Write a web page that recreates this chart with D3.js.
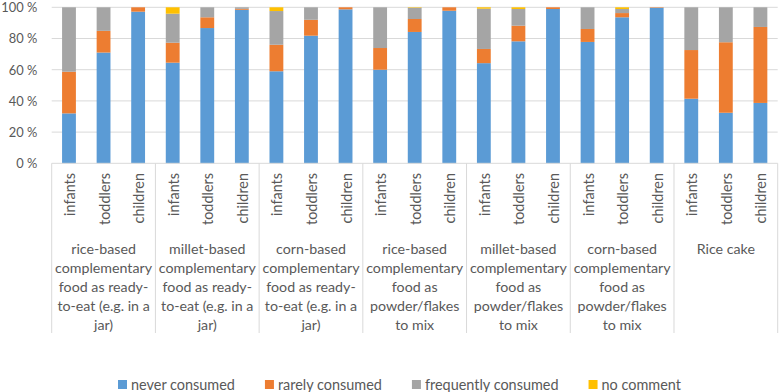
<!DOCTYPE html>
<html><head><meta charset="utf-8">
<script src="https://cdn.jsdelivr.net/npm/d3@7"></script>
<style>body{margin:0;background:#fff}svg{display:block}text{font-family:Lato,"Open Sans",sans-serif;fill:#595959}</style>
</head><body><svg id="c" width="780" height="392"></svg>
<script>
const groups = [
  ["rice-based","complementary","food as ready-","to-eat (e.g. in a","jar)"],
  ["millet-based","complementary","food as ready-","to-eat (e.g. in a","jar)"],
  ["corn-based","complementary","food as ready-","to-eat (e.g. in a","jar)"],
  ["rice-based","complementary","food as","powder/flakes","to mix"],
  ["millet-based","complementary","food as","powder/flakes","to mix"],
  ["corn-based","complementary","food as","powder/flakes","to mix"],
  ["Rice cake"]
];
const ages = ["infants","toddlers","children"];
const seriesNames = ["never consumed","rarely consumed","frequently consumed","no comment"];
const colors = ["#5B9BD5","#ED7D31","#A5A5A5","#FFC000"];
// values per bar, in order group1(infants,toddlers,children), group2, ...
const neverConsumed      = [32,71,97.2, 64.5,86.7,98.4, 59,81.8,98.7, 60,84.2,97.8, 64.2,78.2,98.9, 77.8,93.6,99.7, 41.4,32.4,38.7];
const rarelyConsumed     = [26.7,13.9,2.8, 12.8,6.9,0.6, 17,10.2,1.3, 13.9,8.3,2.2, 9.1,10,1.1, 8.3,2.7,0.3, 31.2,45.2,48.7];
const frequentlyConsumed = [41.3,15.1,0, 18.6,6.4,1.0, 21.6,8,0, 26.1,7.2,0, 25.8,10.7,0, 13.9,2.6,0, 27.4,22.4,12.6];
const noComment          = [0,0,0, 4.1,0,0, 2.4,0,0, 0,0.3,0, 0.9,1.1,0, 0,1.1,0, 0,0,0];
const yTicks = [0,20,40,60,80,100];

const svg = d3.select("#c");
// font size fitting: find size so that a sample text has target width
function fit(sample, target){
  const t = svg.append("text").attr("font-size",20).text(sample);
  const w = t.node().getComputedTextLength();
  t.remove();
  return 20*target/w;
}
const fsTick = fit("100 %", 36);
const fsAge = fit("toddlers", 52);
const fsGroup = fit("complementary", 97);
const fsLeg = fit("never consumed", 104);

const L = 51.7, R = 777.7, T = 7.3, B = 163.3;
const y = d3.scaleLinear().domain([0,100]).range([B,T]);
const xg = d3.scaleBand().domain(d3.range(groups.length)).range([L,R]);
const xc = d3.scaleBand().domain(ages).range([0,xg.bandwidth()]).paddingInner(0.6).paddingOuter(0.3);

// gridlines
svg.append("g").selectAll("line").data(yTicks.filter(d=>d>0)).join("line")
  .attr("x1",L).attr("x2",R).attr("y1",d=>y(d)).attr("y2",d=>y(d))
  .attr("stroke","#D9D9D9").attr("stroke-width",1);

// y axis labels
const ya = svg.append("g").attr("transform",`translate(${L},0)`)
  .call(d3.axisLeft(y).tickValues(yTicks).tickFormat(d=>d+" %").tickSize(0).tickPadding(14.5));
ya.select(".domain").remove();
ya.selectAll("text").attr("font-size",fsTick).style("font-family","Lato,'Open Sans',sans-serif").attr("fill","#595959").attr("dy","0.34em");

// data stacking
const rows = [];
groups.forEach((g,gi)=>ages.forEach((a,ai)=>{
  const i = gi*3+ai;
  rows.push({gi, age:a, v:[neverConsumed[i],rarelyConsumed[i],frequentlyConsumed[i],noComment[i]]});
}));
const stack = d3.stack().keys([0,1,2,3]).value((d,k)=>d.v[k])(rows);
svg.append("g").selectAll("g").data(stack).join("g").attr("fill",(d,i)=>colors[i])
  .selectAll("rect").data(d=>d).join("rect")
  .attr("x",d=>xg(d.data.gi)+xc(d.data.age))
  .attr("width",xc.bandwidth())
  .attr("y",d=>y(d[1]))
  .attr("height",d=>Math.max(0,y(d[0])-y(d[1])));

// x axis line & group separators
svg.append("line").attr("x1",L).attr("x2",R).attr("y1",B).attr("y2",B).attr("stroke","#D9D9D9");
const seps = d3.range(groups.length+1).map(i=> i<groups.length ? xg(i) : R);
svg.append("g").selectAll("line").data(seps).join("line")
  .attr("x1",d=>d).attr("x2",d=>d).attr("y1",B).attr("y2",333)
  .attr("stroke","#D9D9D9");

// age labels
groups.forEach((g,gi)=>{
  svg.append("g").selectAll("text").data(ages).join("text")
    .attr("transform",a=>`translate(${xg(gi)+xc(a)+xc.bandwidth()/2+6},173) rotate(-90)`)
    .attr("text-anchor","end").attr("font-size",fsAge).text(a=>a);
  svg.append("text").attr("x",xg(gi)+xg.bandwidth()/2).attr("text-anchor","middle").attr("font-size",fsGroup)
    .selectAll("tspan").data(g).join("tspan")
    .attr("x",xg(gi)+xg.bandwidth()/2).attr("y",(d,i)=>253.5+i*19.2).text(d=>d);
});

// legend (laid out from measured text widths)
const lg = svg.append("g");
let lx = 118;
seriesNames.forEach((name,i)=>{
  lg.append("rect").attr("x",lx).attr("y",380).attr("width",9).attr("height",9).attr("fill",colors[i]);
  const t = lg.append("text").attr("x",lx+13).attr("y",389.5).attr("font-size",fsLeg).text(name);
  lx += 13 + t.node().getComputedTextLength() + 30;
});
</script></body></html>
